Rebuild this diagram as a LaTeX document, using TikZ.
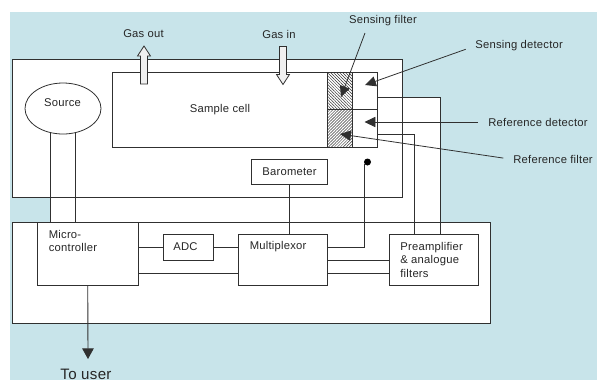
\documentclass[tikz,border=0pt]{standalone}
\usepackage{fontspec}
\setmainfont[LetterSpace=2]{Liberation Sans}
\usetikzlibrary{arrows.meta,patterns.meta,shapes.geometric}
\definecolor{panelblue}{HTML}{C8E4EA}
\definecolor{wiregray}{HTML}{303030}
\tikzset{
	box/.style={draw=wiregray, fill=white, line width=0.5pt, inner sep=0pt},
	wire/.style={draw=wiregray, line width=0.5pt},
	txt/.style={inner sep=0pt, text=black!85, align=left, font=\fontsize{6.4}{7.7}\selectfont},
	callout/.style={draw=wiregray, line width=0.45pt, -{Triangle[length=6.2pt,width=5.8pt]}, shorten <=5.6pt},
	flowarrow/.style={draw=wiregray, fill=black!6, line width=0.45pt}
}
\begin{document}
\begin{tikzpicture}[x=0.02cm, y=-0.02cm]
	\useasboundingbox (0,0) rectangle (597,380);
	\fill[panelblue] (10,12) rectangle (597,380);
	% white area behind the two housings
	\fill[white] (50.5,190) rectangle (440,230);
	\fill[white] (402,97) rectangle (440,230);
	
	\draw[box] (12,59) rectangle (402,197);
	\draw[box] (12,222) rectangle (490.5,323);
	
	\node[box, minimum width=265*0.02cm, minimum height=75*0.02cm] (cell) at (245,109.5) {};
	\draw[box, pattern={Lines[angle=-45,distance=1.2pt,line width=0.28pt]}, pattern color=black!80] (327,72) rectangle (352.7,109);
	\draw[box, pattern={Lines[angle=45,distance=1.2pt,line width=0.28pt]}, pattern color=black!80] (327,109) rectangle (352.7,147);
	\draw[wire] (327,72) -- (327,147);
	\draw[wire] (352.7,72) -- (352.7,147);
	\draw[wire] (327,109) -- (377.5,109);
	
	\node[draw=wiregray, fill=white, line width=0.45pt, ellipse, minimum width=76*0.02cm, minimum height=51*0.02cm, inner sep=0pt] (source) at (63,108.5) {};
	\node[box, minimum width=100.5*0.02cm, minimum height=63*0.02cm] (micro) at (87.75,253.5) {};
	\node[box, minimum width=50.5*0.02cm, minimum height=25.5*0.02cm] (adc) at (188.25,247.25) {};
	\node[box, minimum width=89*0.02cm, minimum height=50.5*0.02cm] (mux) at (283,259.75) {};
	\node[box, minimum width=89*0.02cm, minimum height=50.5*0.02cm] (preamp) at (434,259.75) {};
	\node[box, minimum width=76*0.02cm, minimum height=25.5*0.02cm] (baro) at (289.5,171.75) {};
	
	\node[txt] (celltext) at (220,109.5) {Sample cell};
	\node[txt] (sourcetext) at (62.5,103) {Source};
	\node[txt, anchor=north west] (microtext) at (48.5,229.5) {Micro-\\controller};
	\node[txt] (adctext) at (185.5,247) {ADC};
	\node[txt, anchor=west] (muxtext) at (249.5,247) {Multiplexor};
	\node[txt, anchor=north west] (preamptext) at (400,241.5) {Preamplifier\\\& analogue\\filters};
	\node[txt] (barotext) at (289.5,171.5) {Barometer};
	\node[txt] (gasouttext) at (143.5,34) {Gas out};
	\node[txt] (gasintext) at (279,34) {Gas in};
	\node[txt] (sensfilter) at (383,21) {Sensing filter};
	\node[txt, anchor=west] (sensdet) at (475,46) {Sensing detector};
	\node[txt, anchor=west] (refdet) at (488,122) {Reference detector};
	\node[txt, anchor=west] (reffilter) at (513,159.5) {Reference filter};
	\node[txt, font=\fontsize{8.6}{10}\selectfont] (usertext) at (86,374) {To user};
	
	\foreach \x/\y/\s in {144/84/-1, 283/46.5/1}
	{
		\draw[flowarrow] (\x-3.5,\y) -- (\x-3.5,\y+\s*28) -- (\x-6.5,\y+\s*28) -- (\x,\y+\s*38) -- (\x+6.5,\y+\s*28) -- (\x+3.5,\y+\s*28) -- (\x+3.5,\y) -- cycle;
	}
	
	\coordinate (dot) at (367.5,162);
	\coordinate (usertip) at (88,359);
	\coordinate (sensfilterend) at (365,33);
	\coordinate (sensfiltertip) at (341,97);
	\coordinate (sensdettip) at (365,85);
	\coordinate (refdettip) at (364.5,122);
	\coordinate (reffiltertip) at (340,134);
	\coordinate (cellA) at (377.5,97);
	\coordinate (cellB) at (377.5,134);
	
	\fill[black] (dot) circle (3.5);
	
	\foreach \x in {50.5, 75.5}
	{
		\draw[wire] (\x,133) -- (\x,222);
	}
	\draw[wire] (baro.south) -- (baro.south |- mux.north);
	\draw[wire] (micro.east |- adc.west) -- (adc.west);
	\draw[wire] (adc.east) -- (adc.east -| mux.west);
	\draw[wire] (138,273) -- (238.5,273);
	\draw[wire] (327.5,247.5) -- (364.5,247.5) -- (364.5,164);
	\foreach \y in {260, 273}
	{
		\draw[wire] (327.5,\y) -- (389.5,\y);
	}
	\draw[wire] (cellB) -| (414,234.5);
	\draw[wire] (cellA) -| (440,234.5);
	\draw[wire, -{Triangle[length=6pt,width=6.5pt]}] (micro.south) -- (usertip);
	
	\draw[callout, shorten <=0pt] (sensfilterend) -- (sensfiltertip);
	\draw[callout] (sensdet.west) -- (sensdettip);
	\draw[callout] (refdet.west) -- (refdettip);
	\draw[callout] (reffilter.west) -- (reffiltertip);
\end{tikzpicture}
\end{document}
